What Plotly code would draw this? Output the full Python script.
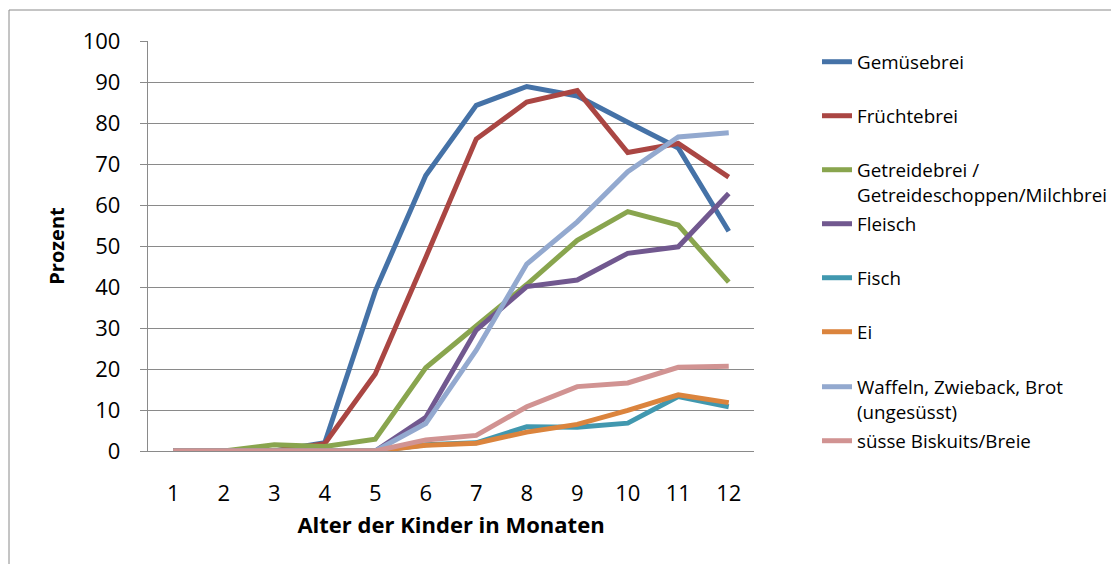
import plotly.graph_objects as go

months = ["1", "2", "3", "4", "5", "6", "7", "8", "9", "10", "11", "12"]

gemuesebrei = [0, 0, 0, 2.0, 39.0, 67.2, 84.3, 88.9, 86.6, 80.2, 73.9, 53.6]
fruechtebrei = [0, 0, 0, 1.8, 18.8, 47.2, 76.1, 85.1, 87.9, 72.8, 75.0, 66.8]
getreidebrei = [0, 0, 1.5, 1.1, 2.9, 20.3, 30.5, 40.6, 51.4, 58.4, 55.1, 41.2]
fleisch = [0, 0, 0, 0, 0, 8.2, 29.5, 40.1, 41.7, 48.2, 49.8, 62.8]
fisch = [0, 0, 0, 0, 0, 1.5, 2.0, 5.9, 5.8, 6.8, 13.3, 10.8]
ei = [0, 0, 0, 0, 0, 1.4, 1.9, 4.6, 6.5, 9.9, 13.7, 11.8]
waffeln = [0, 0, 0, 0, 0, 6.7, 24.6, 45.6, 55.9, 68.1, 76.6, 77.6]
biskuits = [0, 0, 0, 0, 0, 2.7, 3.8, 10.8, 15.7, 16.6, 20.4, 20.7]

series_names = [
    "Gemüsebrei",
    "Früchtebrei",
    "Getreidebrei /<br>Getreideschoppen/Milchbrei",
    "Fleisch",
    "Fisch",
    "Ei",
    "Waffeln, Zwieback, Brot<br>(ungesüsst)",
    "süsse Biskuits/Breie",
]
series_values = [gemuesebrei, fruechtebrei, getreidebrei, fleisch, fisch, ei, waffeln, biskuits]
series_colors = ["#4572A7", "#AA4643", "#89A54E", "#71588F", "#4198AF", "#DB843D", "#93A9CF", "#D19392"]

FONT = "Open Sans"
GRID = "#8A8A8A"

# the page body has an 8px margin, so the figure is placed at (8, 8)
OFF = 8
W, H = 1119 - OFF, 564 - OFF
# plot area in reference-screen pixels
L, R, T, B = 148 - OFF, 754 - OFF, 41 - OFF, 451 - OFF

def py(ypix):  # reference screen y -> paper
    return (B - (ypix - OFF)) / (B - T)

def px(xpix):  # reference screen x -> paper
    return ((xpix - OFF) - L) / (R - L)

legend_centers = [62, 116, 170, 224, 278, 332, 387, 441]

fig = go.Figure()
layout_legends = {}
for i, (name, vals, col) in enumerate(zip(series_names, series_values, series_colors)):
    lname = "legend" if i == 0 else f"legend{i+1}"
    fig.add_trace(go.Scatter(
        x=months, y=vals, name=name, mode="lines",
        line=dict(color=col, width=5),
        legend=lname,
    ))
    layout_legends[lname] = dict(
        x=px(817), y=py(legend_centers[i] - 19), xanchor="left", yanchor="top",
        bgcolor="rgba(0,0,0,0)", valign="top",
        font=dict(family=FONT, size=18.8, color="#000000"),
        itemclick=False,
    )

fig.update_layout(
    width=W, height=H,
    margin=dict(l=L, r=W - R, t=T, b=H - B, autoexpand=False),
    paper_bgcolor="white", plot_bgcolor="white",
    font=dict(family=FONT, color="#000000"),
    showlegend=True,
    **layout_legends,
)

fig.update_xaxes(
    type="category", range=[-0.5, len(months) - 0.5],
    showgrid=False, showline=True, linecolor=GRID, linewidth=1.3,
    ticks="", tickfont=dict(family=FONT, size=22, color="#000000"),
    ticklabelstandoff=22,
    title=dict(text="<b>Alter der Kinder in Monaten</b>", font=dict(family=FONT, size=22, color="#000000"), standoff=12),
    automargin=False,
    fixedrange=True,
)
fig.update_yaxes(
    range=[0, 100], dtick=10, tick0=0,
    showgrid=True, gridcolor=GRID, gridwidth=1.3,
    showline=True, linecolor=GRID, linewidth=1.3,
    ticks="outside", ticklen=7, tickcolor=GRID, tickwidth=1.3,
    tickfont=dict(family=FONT, size=22, color="#000000"),
    ticklabelstandoff=15,
    zeroline=False,
    title=dict(text="<b>Prozent</b>", font=dict(family=FONT, size=20, color="#000000"), standoff=12),
    automargin=False,
    fixedrange=True,
)

# chart area border
fig.add_shape(type="rect", xref="paper", yref="paper",
              x0=px(9), x1=px(1140), y0=py(590), y1=py(10),
              line=dict(color="#8A8A8A", width=1), fillcolor="rgba(0,0,0,0)", layer="below")

fig.write_html("out.html")
